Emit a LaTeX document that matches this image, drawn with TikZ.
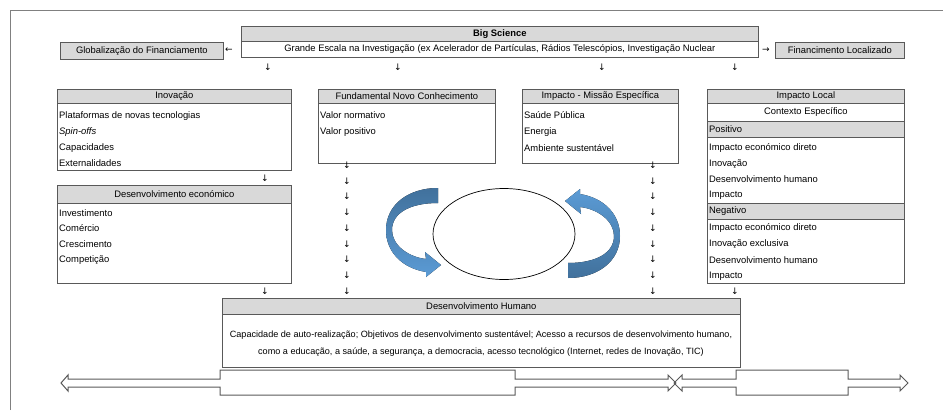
\documentclass[tikz,border=0pt]{standalone}
\usepackage{fontspec}
\setmainfont{Liberation Sans}
\newfontfamily\arrowfont{DejaVu Sans}
\usetikzlibrary{shapes.geometric}
\definecolor{CLine}{HTML}{595959}
\definecolor{CHead}{HTML}{D9D9D9}
\definecolor{CFrame}{HTML}{808080}
\definecolor{CBlueDark}{HTML}{41719C}
\definecolor{CBlueLight}{HTML}{5B9BD5}

\begin{document}
\begin{tikzpicture}[x=1pt, y=-1pt, font=\fontsize{9.4}{11}\selectfont,
    panel/.style={draw=CLine, line width=0.7pt, fill=white, anchor=north west, inner sep=0pt},
    headbox/.style={panel, fill=CHead},
    item/.style={anchor=west, inner sep=2pt},
    glyph/.style={font=\arrowfont\fontsize{9}{9}\selectfont, inner sep=0pt},
    cycL/.style={top color=CBlueDark, bottom color=CBlueLight},
    cycR/.style={top color=CBlueLight, bottom color=CBlueDark}]
    \useasboundingbox (0,0) rectangle (951,410);

    % Frame
    \draw[CFrame, line width=0.6pt] (10,410) -- (10,10) -- (943,10);

    % --- Top: Big Science ---
    \node[headbox, minimum width=517pt, minimum height=15pt, font=\fontsize{9.4}{11}\selectfont\bfseries] (bigH) at (241,26) {Big Science};
    \node[panel, minimum width=517pt, minimum height=16pt] (bigB) at (241,41) {Grande Escala na Investigação (ex Acelerador de Partículas, Rádios Telescópios, Investigação Nuclear};
    \node[headbox, minimum width=163pt, minimum height=17pt] (glob) at (60,42) {Globalização do Financiamento};
    \node[headbox, minimum width=129pt, minimum height=16pt] (local) at (775,42) {Financimento Localizado};
    \node[glyph] (toGlob) at (229,50) {←};
    \node[glyph] (toLocal) at (766,50) {→};
    \foreach \x [count=\i] in {268,398,602,735} {
        \node[glyph] (dnTop\i) at (\x,67) {↓};
    }

    % --- Inovação ---
    \node[panel, minimum width=234pt, minimum height=81pt] (inov) at (57,89) {};
    \node[headbox, minimum width=234pt, minimum height=14pt] (inovH) at (57,89) {Inovação};
    \node[item] (inov1) at (57,116) {Plataformas de novas tecnologias};
    \node[item] (inov2) at (57,132) {\itshape Spin-offs};
    \node[item] (inov3) at (57,148) {Capacidades};
    \node[item] (inov4) at (57,163) {Externalidades};

    % --- Fundamental Novo Conhecimento ---
    \node[panel, minimum width=177pt, minimum height=74pt] (fund) at (318,89) {};
    \node[headbox, minimum width=177pt, minimum height=14pt] (fundH) at (318,89) {Fundamental Novo Conhecimento};
    \node[item] (fund1) at (318,115) {Valor normativo};
    \node[item] (fund2) at (318,132) {Valor positivo};

    % --- Impacto - Missão Específica ---
    \node[panel, minimum width=156pt, minimum height=74pt] (miss) at (522,89) {};
    \node[headbox, minimum width=156pt, minimum height=14pt] (missH) at (522,89) {Impacto - Missão Específica};
    \node[item] (miss1) at (522,115) {Saúde Pública};
    \node[item] (miss2) at (522,132) {Energia};
    \node[item] (miss3) at (522,148) {Ambiente sustentável};

    % --- Impacto Local ---
    \node[panel, minimum width=197pt, minimum height=194pt] (loc) at (707,89) {};
    \node[headbox, minimum width=197pt, minimum height=14pt] (locH) at (707,89) {Impacto Local};
    \node[panel, minimum width=197pt, minimum height=18pt] (locC) at (707,103) {Contexto Específico};
    \draw[CLine, line width=1.3pt] (locC.south west) -- (locC.south east);
    \node[headbox, minimum width=197pt, minimum height=16pt] (locP) at (707,121) {};
    \node[item] (locPt) at (707,129) {Positivo};
    \node[item] (locP1) at (707,148) {Impacto económico direto};
    \node[item] (locP2) at (707,164) {Inovação};
    \node[item] (locP3) at (707,179) {Desenvolvimento humano};
    \node[item] (locP4) at (707,195) {Impacto};
    \node[headbox, minimum width=197pt, minimum height=16pt] (locN) at (707,203) {};
    \node[item] (locNt) at (707,211) {Negativo};
    \node[item] (locN1) at (707,228) {Impacto económico direto};
    \node[item] (locN2) at (707,244) {Inovação exclusiva};
    \node[item] (locN3) at (707,260) {Desenvolvimento humano};
    \node[item] (locN4) at (707,276) {Impacto};

    % --- Desenvolvimento económico ---
    \node[panel, minimum width=234pt, minimum height=98pt] (econ) at (57,185) {};
    \node[headbox, minimum width=234pt, minimum height=18pt] (econH) at (57,185) {Desenvolvimento económico};
    \node[item] (econ1) at (57,213) {Investimento};
    \node[item] (econ2) at (57,228) {Comércio};
    \node[item] (econ3) at (57,244) {Crescimento};
    \node[item] (econ4) at (57,260) {Competição};

    % Arrow columns
    \node[glyph] (dnInov) at (265,178) {↓};
    \node[glyph] (dnEcon) at (265,291) {↓};
    \node[glyph] (dnLoc) at (735,291) {↓};
    \foreach \i in {0,...,8} {
        \node[glyph] (dnF\i) at (347,165+15.75*\i) {↓};
        \node[glyph] (dnM\i) at (653,165+15.75*\i) {↓};
    }

    % --- Cycle ---
    \node[draw, ellipse, line width=0.7pt, minimum width=142pt, minimum height=91pt] (ciclo) at (504,234) {};
    \foreach \r/\st in {0/cycL,180/cycR} {
        \fill[\st, rotate around={\r:(503,233)}] (438,188) .. controls (408,188) and (386,205) .. (386,230)
            .. controls (386,252) and (402,268) .. (426,272)
            -- (426,277) -- (441,265) -- (425,252) -- (426,259)
            .. controls (408,257) and (392,245) .. (392,230)
            .. controls (392,213) and (410,203) .. (438,203) -- cycle;
    }

    % --- Desenvolvimento Humano ---
    \node[panel, minimum width=518pt, minimum height=69pt] (hum) at (222,298) {};
    \node[headbox, minimum width=518pt, minimum height=16pt] (humH) at (222,298) {Desenvolvimento Humano};
    \node[font=\fontsize{9.1}{11}\selectfont] (hum1) at (481,335) {Capacidade de auto-realização; Objetivos de desenvolvimento sustentável; Acesso a recursos de desenvolvimento humano,};
    \node[font=\fontsize{9.1}{11}\selectfont] (hum2) at (481,352) {como a educação, a saúde, a segurança, a democracia, acesso tecnológico (Internet, redes de Inovação, TIC)};

    % --- Bottom double arrows ---
    \draw[CLine, line width=1pt, line join=miter] (61,383) -- (68,375) -- (68,379) -- (220,379) -- (220,370) -- (515,370) -- (515,379)
        -- (668,379) -- (668,375) -- (676,383) -- (668,391) -- (668,387) -- (515,387) -- (515,395) -- (220,395) -- (220,387)
        -- (68,387) -- (68,391) -- cycle;
    \draw[CLine, line width=1pt, line join=miter] (674,383) -- (682,375) -- (682,379) -- (736,379) -- (736,370) -- (848,370) -- (848,379)
        -- (900,379) -- (900,375) -- (908,383) -- (900,391) -- (900,387) -- (848,387) -- (848,395) -- (736,395) -- (736,387)
        -- (682,387) -- (682,391) -- cycle;

\end{tikzpicture}
\end{document}
